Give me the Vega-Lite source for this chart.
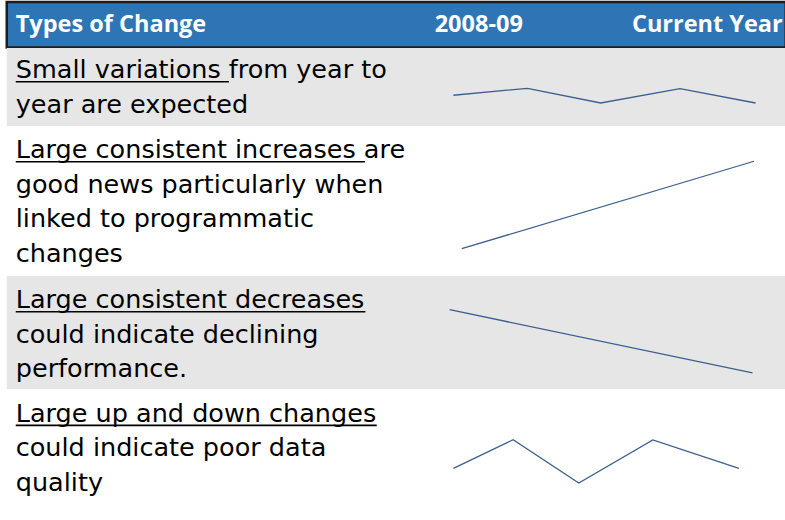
{
  "$schema": "https://vega.github.io/schema/vega-lite/v6.json",
  "background": "white",
  "padding": {"left": 4.75, "top": 0, "right": 0, "bottom": 0},
  "spacing": 0,
  "bounds": "flush",
  "config": {"view": {"stroke": null}, "concat": {"spacing": 0}},
  "datasets": {
    "header": [
      {"part": "label", "col": "Types of Change", "t": null},
      {"part": "start", "col": "2008-09", "t": 0.335},
      {"part": "end", "col": "Current Year", "t": 4.36}
    ],
    "lines": [
      {"row": 1, "line": 0, "text": "Small variations from year to", "underline_em": 8.358},
      {"row": 1, "line": 1, "text": "year are expected", "underline_em": null},
      {"row": 2, "line": 0, "text": "Large consistent increases are", "underline_em": 13.692},
      {"row": 2, "line": 1, "text": "good news particularly when", "underline_em": null},
      {"row": 2, "line": 2, "text": "linked to programmatic", "underline_em": null},
      {"row": 2, "line": 3, "text": "changes", "underline_em": null},
      {"row": 3, "line": 0, "text": "Large consistent decreases", "underline_em": 13.712},
      {"row": 3, "line": 1, "text": "could indicate declining", "underline_em": null},
      {"row": 3, "line": 2, "text": "performance.", "underline_em": null},
      {"row": 4, "line": 0, "text": "Large up and down changes", "underline_em": 14.155},
      {"row": 4, "line": 1, "text": "could indicate poor data", "underline_em": null},
      {"row": 4, "line": 2, "text": "quality", "underline_em": null}
    ],
    "sparks": [
      {"row": 1, "t": 0, "value": 39.4},
      {"row": 1, "t": 0.98, "value": 48.3},
      {"row": 1, "t": 1.95, "value": 29.5},
      {"row": 1, "t": 3.0, "value": 47.8},
      {"row": 1, "t": 4.0, "value": 29.5},
      {"row": 2, "t": 0.11, "value": 18.2},
      {"row": 2, "t": 3.98, "value": 76.5},
      {"row": 3, "t": -0.05, "value": 70.2},
      {"row": 3, "t": 3.96, "value": 14.2},
      {"row": 4, "t": 0, "value": 39.9},
      {"row": 4, "t": 0.79, "value": 61.6},
      {"row": 4, "t": 1.66, "value": 28.8},
      {"row": 4, "t": 2.64, "value": 61.4},
      {"row": 4, "t": 3.78, "value": 39.9}
    ]
  },
  "vconcat": [
    {
      "width": 779, "height": 45.5,
      "view": {"fill": "#2e75b6", "stroke": "#1c1c1c", "strokeWidth": 2.5},
      "data": {"name": "header"},
      "resolve": {"scale": {"x": "independent"}},
      "layer": [
        {
          "transform": [{"filter": "datum.part == 'label'"}],
          "mark": {"type": "text", "align": "left", "baseline": "middle", "font": "Open Sans", "fontWeight": "bold", "fontSize": 23.5, "color": "white"},
          "encoding": {
            "x": {"datum": 0, "type": "quantitative", "scale": {"domain": [-0.353, 30.196], "nice": false, "zero": false}, "axis": null},
            "text": {"field": "col", "type": "nominal"}
          }
        },
        {
          "transform": [{"filter": "datum.part == 'start'"}],
          "mark": {"type": "text", "align": "center", "baseline": "middle", "font": "Open Sans", "fontWeight": "bold", "fontSize": 23.5, "color": "white"},
          "encoding": {
            "x": {"field": "t", "type": "quantitative", "scale": {"domain": [-5.914, 4.4], "nice": false, "zero": false}, "axis": null},
            "text": {"field": "col", "type": "nominal"}
          }
        },
        {
          "transform": [{"filter": "datum.part == 'end'"}],
          "mark": {"type": "text", "align": "right", "baseline": "middle", "font": "Open Sans", "fontWeight": "bold", "fontSize": 23.5, "color": "white"},
          "encoding": {
            "x": {"field": "t", "type": "quantitative", "scale": {"domain": [-5.914, 4.4], "nice": false, "zero": false}, "axis": null},
            "text": {"field": "col", "type": "nominal"}
          }
        }
      ]
    },
    {
      "width": 779, "height": 78,
      "view": {"fill": "#e6e6e6", "stroke": null},
      "resolve": {"scale": {"x": "independent", "y": "independent"}},
      "layer": [
        {
          "data": {"name": "lines"},
          "transform": [{"filter": "datum.row == 1"}],
          "mark": {"type": "text", "align": "left", "baseline": "alphabetic", "dy": -3.4, "font": "DejaVu Sans", "fontSize": 25.5, "color": "#000000"},
          "encoding": {
            "x": {"datum": 0, "type": "quantitative", "scale": {"domain": [-0.353, 30.196], "nice": false, "zero": false}, "axis": null},
            "y": {"field": "line", "type": "quantitative", "scale": {"domain": [-0.980, 1.287], "reverse": true, "nice": false, "zero": false}, "axis": null},
            "text": {"field": "text", "type": "nominal"}
          }
        },
        {
          "data": {"name": "lines"},
          "transform": [{"filter": "datum.row == 1 && datum.underline_em > 0"}],
          "mark": {"type": "rule", "strokeWidth": 1.6, "color": "#000000"},
          "encoding": {
            "x": {"field": "underline_em", "type": "quantitative", "scale": {"domain": [-0.353, 30.196], "nice": false, "zero": false}, "axis": null},
            "x2": {"datum": 0},
            "y": {"field": "line", "type": "quantitative", "scale": {"domain": [-0.980, 1.287], "reverse": true, "nice": false, "zero": false}, "axis": null}
          }
        },
        {
          "data": {"name": "sparks"},
          "transform": [{"filter": "datum.row == 1"}],
          "mark": {"type": "line", "color": "#3c5f91", "strokeWidth": 1.3},
          "encoding": {
            "x": {"field": "t", "type": "quantitative", "scale": {"domain": [-5.914, 4.4], "nice": false, "zero": false}, "axis": null},
            "y": {"field": "value", "type": "quantitative", "scale": {"domain": [0, 100], "nice": false}, "axis": null},
            "order": {"field": "t", "type": "quantitative"}
          }
        }
      ]
    },
    {
      "width": 779, "height": 150,
      "view": {"fill": "white", "stroke": null},
      "resolve": {"scale": {"x": "independent", "y": "independent"}},
      "layer": [
        {
          "data": {"name": "lines"},
          "transform": [{"filter": "datum.row == 2"}],
          "mark": {"type": "text", "align": "left", "baseline": "alphabetic", "dy": -3.4, "font": "DejaVu Sans", "fontSize": 25.5, "color": "#000000"},
          "encoding": {
            "x": {"datum": 0, "type": "quantitative", "scale": {"domain": [-0.353, 30.196], "nice": false, "zero": false}, "axis": null},
            "y": {"field": "line", "type": "quantitative", "scale": {"domain": [-1.038, 3.322], "reverse": true, "nice": false, "zero": false}, "axis": null},
            "text": {"field": "text", "type": "nominal"}
          }
        },
        {
          "data": {"name": "lines"},
          "transform": [{"filter": "datum.row == 2 && datum.underline_em > 0"}],
          "mark": {"type": "rule", "strokeWidth": 1.6, "color": "#000000"},
          "encoding": {
            "x": {"field": "underline_em", "type": "quantitative", "scale": {"domain": [-0.353, 30.196], "nice": false, "zero": false}, "axis": null},
            "x2": {"datum": 0},
            "y": {"field": "line", "type": "quantitative", "scale": {"domain": [-1.038, 3.322], "reverse": true, "nice": false, "zero": false}, "axis": null}
          }
        },
        {
          "data": {"name": "sparks"},
          "transform": [{"filter": "datum.row == 2"}],
          "mark": {"type": "line", "color": "#3c5f91", "strokeWidth": 1.3},
          "encoding": {
            "x": {"field": "t", "type": "quantitative", "scale": {"domain": [-5.914, 4.4], "nice": false, "zero": false}, "axis": null},
            "y": {"field": "value", "type": "quantitative", "scale": {"domain": [0, 100], "nice": false}, "axis": null},
            "order": {"field": "t", "type": "quantitative"}
          }
        }
      ]
    },
    {
      "width": 779, "height": 113,
      "view": {"fill": "#e6e6e6", "stroke": null},
      "resolve": {"scale": {"x": "independent", "y": "independent"}},
      "layer": [
        {
          "data": {"name": "lines"},
          "transform": [{"filter": "datum.row == 3"}],
          "mark": {"type": "text", "align": "left", "baseline": "alphabetic", "dy": -3.4, "font": "DejaVu Sans", "fontSize": 25.5, "color": "#000000"},
          "encoding": {
            "x": {"datum": 0, "type": "quantitative", "scale": {"domain": [-0.353, 30.196], "nice": false, "zero": false}, "axis": null},
            "y": {"field": "line", "type": "quantitative", "scale": {"domain": [-1.038, 2.247], "reverse": true, "nice": false, "zero": false}, "axis": null},
            "text": {"field": "text", "type": "nominal"}
          }
        },
        {
          "data": {"name": "lines"},
          "transform": [{"filter": "datum.row == 3 && datum.underline_em > 0"}],
          "mark": {"type": "rule", "strokeWidth": 1.6, "color": "#000000"},
          "encoding": {
            "x": {"field": "underline_em", "type": "quantitative", "scale": {"domain": [-0.353, 30.196], "nice": false, "zero": false}, "axis": null},
            "x2": {"datum": 0},
            "y": {"field": "line", "type": "quantitative", "scale": {"domain": [-1.038, 2.247], "reverse": true, "nice": false, "zero": false}, "axis": null}
          }
        },
        {
          "data": {"name": "sparks"},
          "transform": [{"filter": "datum.row == 3"}],
          "mark": {"type": "line", "color": "#3c5f91", "strokeWidth": 1.3},
          "encoding": {
            "x": {"field": "t", "type": "quantitative", "scale": {"domain": [-5.914, 4.4], "nice": false, "zero": false}, "axis": null},
            "y": {"field": "value", "type": "quantitative", "scale": {"domain": [0, 100], "nice": false}, "axis": null},
            "order": {"field": "t", "type": "quantitative"}
          }
        }
      ]
    },
    {
      "width": 779, "height": 132,
      "view": {"fill": "white", "stroke": null},
      "resolve": {"scale": {"x": "independent", "y": "independent"}},
      "layer": [
        {
          "data": {"name": "lines"},
          "transform": [{"filter": "datum.row == 4"}],
          "mark": {"type": "text", "align": "left", "baseline": "alphabetic", "dy": -3.4, "font": "DejaVu Sans", "fontSize": 25.5, "color": "#000000"},
          "encoding": {
            "x": {"datum": 0, "type": "quantitative", "scale": {"domain": [-0.353, 30.196], "nice": false, "zero": false}, "axis": null},
            "y": {"field": "line", "type": "quantitative", "scale": {"domain": [-1.058, 2.779], "reverse": true, "nice": false, "zero": false}, "axis": null},
            "text": {"field": "text", "type": "nominal"}
          }
        },
        {
          "data": {"name": "lines"},
          "transform": [{"filter": "datum.row == 4 && datum.underline_em > 0"}],
          "mark": {"type": "rule", "strokeWidth": 1.6, "color": "#000000"},
          "encoding": {
            "x": {"field": "underline_em", "type": "quantitative", "scale": {"domain": [-0.353, 30.196], "nice": false, "zero": false}, "axis": null},
            "x2": {"datum": 0},
            "y": {"field": "line", "type": "quantitative", "scale": {"domain": [-1.058, 2.779], "reverse": true, "nice": false, "zero": false}, "axis": null}
          }
        },
        {
          "data": {"name": "sparks"},
          "transform": [{"filter": "datum.row == 4"}],
          "mark": {"type": "line", "color": "#3c5f91", "strokeWidth": 1.3},
          "encoding": {
            "x": {"field": "t", "type": "quantitative", "scale": {"domain": [-5.914, 4.4], "nice": false, "zero": false}, "axis": null},
            "y": {"field": "value", "type": "quantitative", "scale": {"domain": [0, 100], "nice": false}, "axis": null},
            "order": {"field": "t", "type": "quantitative"}
          }
        }
      ]
    }
  ]
}
